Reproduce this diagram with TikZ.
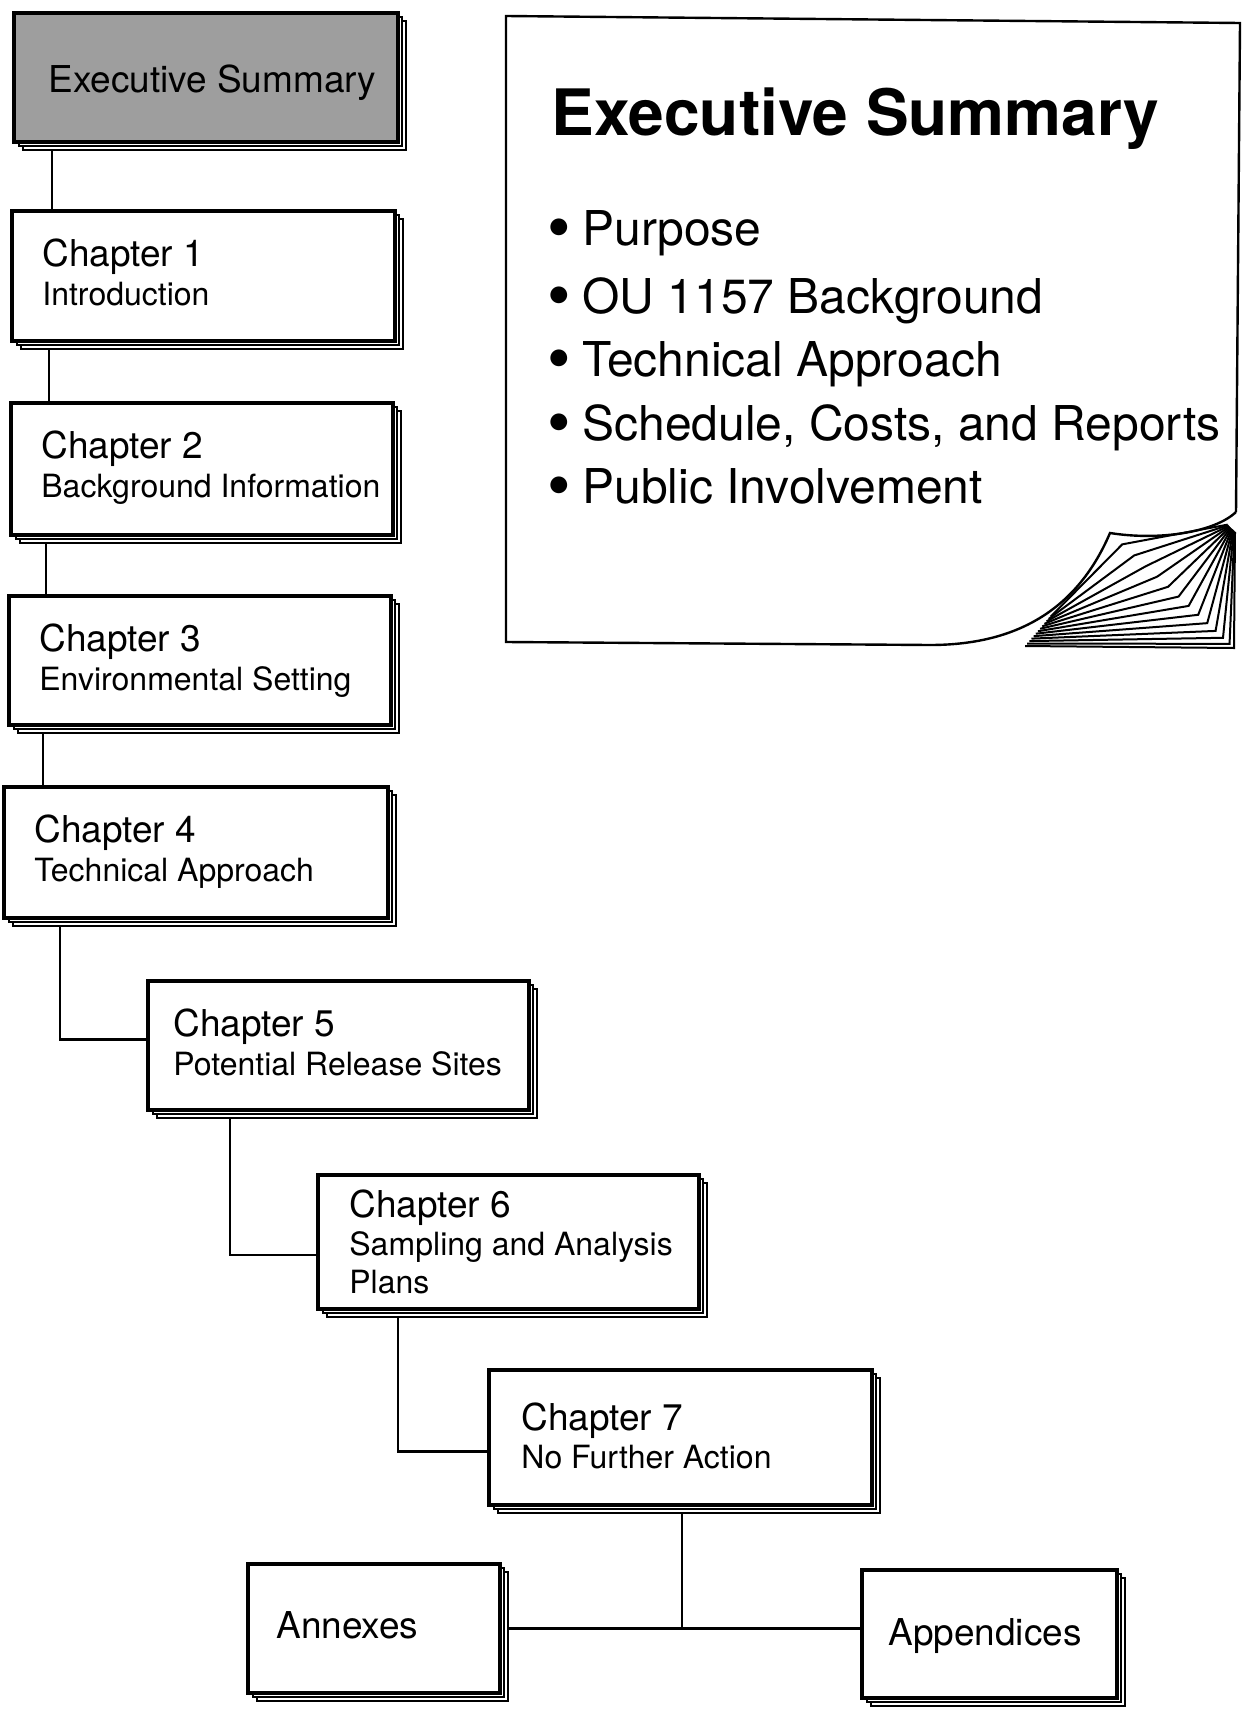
\documentclass[tikz,border=0pt]{standalone}
\usepackage{fontspec}
\setmainfont{TeX Gyre Heros}
\usetikzlibrary{backgrounds}
\newcommand\pagestack[6]{%
  \draw[backpg] (#2+9,#3+8) rectangle (#4+8,#5+8);
  \draw[backpg] (#2+5,#3+4) rectangle (#4+4,#5+4);
  \node[pagebox, fill=#6, minimum width={(#4-#2)*0.5pt}, minimum height={(#5-#3)*0.5pt}] (#1) at (#2,#3) {};
}
\newcommand\bigbul{\makebox[17.5pt][l]{\smash{\raisebox{-0.12em}{\scalebox{1.4}{\textbullet}}}}}
\begin{document}
\begin{tikzpicture}[x=0.5pt,y=-0.5pt,
  pagebox/.style={draw, line width=1.6pt, rectangle, inner sep=0pt, outer sep=0pt, anchor=north west},
  backpg/.style={draw, line width=1pt, fill=white},
  conn/.style={line width=1.1pt},
  chap/.style={anchor=base west, inner sep=0pt, font=\fontsize{18.5}{22}\selectfont},
  subtxt/.style={anchor=base west, inner sep=0pt, font=\fontsize{16}{19}\selectfont},
  bul/.style={anchor=base west, inner sep=0pt, font=\fontsize{24}{28}\selectfont},
  curl/.style={line width=1pt, line join=miter}]
\useasboundingbox (0,0) rectangle (1247,1718);

% stacked boxes
\pagestack{es}{14}{13}{398}{142}{black!38}
\pagestack{c1}{12}{211}{395}{341}{white}
\pagestack{c2}{11}{403}{393}{535}{white}
\pagestack{c3}{9}{596}{391}{725}{white}
\pagestack{c4}{4}{787}{388}{918}{white}
\pagestack{c5}{148}{981}{529}{1110}{white}
\pagestack{c6}{318}{1175}{699}{1309}{white}
\pagestack{c7}{489}{1370}{872}{1505}{white}
\pagestack{annex}{248}{1564}{500}{1693}{white}
\pagestack{app}{862}{1570}{1117}{1698}{white}

% texts
\node[chap] (est) at (48,93) {Executive Summary};
\node[chap] (c1a) at (42,266) {Chapter 1};
\node[subtxt] (c1b) at (42,305) {Introduction};
\node[chap] (c2a) at (41,458) {Chapter 2};
\node[subtxt] (c2b) at (41,497) {Background Information};
\node[chap] (c3a) at (39,651) {Chapter 3};
\node[subtxt] (c3b) at (39,690) {Environmental Setting};
\node[chap] (c4a) at (34,842) {Chapter 4};
\node[subtxt] (c4b) at (34,881) {Technical Approach};
\node[chap] (c5a) at (173,1036) {Chapter 5};
\node[subtxt] (c5b) at (173,1075) {Potential Release Sites};
\node[chap] (c6a) at (349,1217) {Chapter 6};
\node[subtxt] (c6b) at (349,1255) {Sampling and Analysis};
\node[subtxt] (c6c) at (349,1293) {Plans};
\node[chap] (c7a) at (521,1430) {Chapter 7};
\node[subtxt] (c7b) at (521,1468) {No Further Action};
\node[chap] (annext) at (276,1638) {Annexes};
\node[chap] (appt) at (888,1645) {Appendices};

% connectors
\coordinate (k1) at (52,0);
\coordinate (k2) at (49,0);
\coordinate (k3) at (46,0);
\coordinate (k4) at (43,0);
\coordinate (k5) at (60,0);
\coordinate (k6) at (230,0);
\coordinate (k7) at (398,0);
\coordinate (k8) at (682,0);
\begin{scope}[on background layer]
\draw[conn] (k1 |- es.south) -- (k1 |- c1.north);
\draw[conn] (k2 |- c1.south) -- (k2 |- c2.north);
\draw[conn] (k3 |- c2.south) -- (k3 |- c3.north);
\draw[conn] (k4 |- c3.south) -- (k4 |- c4.north);
\draw[conn] (k5 |- c4.south) |- ([yshift=3pt]c5.west);
\draw[conn] (k6 |- c5.south) |- ([yshift=-6.5pt]c6.west);
\draw[conn] (k7 |- c6.south) |- ([yshift=-7pt]c7.west);
\draw[conn] (k8 |- c7.south) -- (k8 |- annex.east);
\draw[conn] (annex.east) -- (annex.east -| app.west);
\end{scope}

% large executive summary page with curled corner
\draw[line width=1.2pt, line join=miter]
  (930,645) -- (506,642) -- (506,16) -- (1240,23) -- (1236,512);
\draw[line width=1.2pt]
  (930,645) .. controls (1010,645) and (1075,615) .. (1110,533)
  .. controls (1160,541) and (1215,532) .. (1236,512);
\foreach \i in {1,...,13}{
  \pgfmathsetmacro\t{\i/13}
  \pgfmathsetmacro\s{1-(1-\t)^1.3}
  \draw[curl] ({1053-28*\t},{614+32*\t}) -- ({1110+124*\s},{533+115*\s}) -- ({1227+8*\t},{524+8*\t});
}
\node[anchor=base west, inner sep=0pt, font=\fontsize{32}{38}\selectfont\bfseries] (est2) at (551,135) {Executive Summary};
\node[bul] (b1) at (547,245) {\bigbul Purpose};
\node[bul] (b2) at (547,313) {\bigbul OU 1157 Background};
\node[bul] (b3) at (547,376) {\bigbul Technical Approach};
\node[bul] (b4) at (547,440) {\bigbul Schedule, Costs, and Reports};
\node[bul] (b5) at (547,503) {\bigbul Public Involvement};
\end{tikzpicture}
\end{document}
